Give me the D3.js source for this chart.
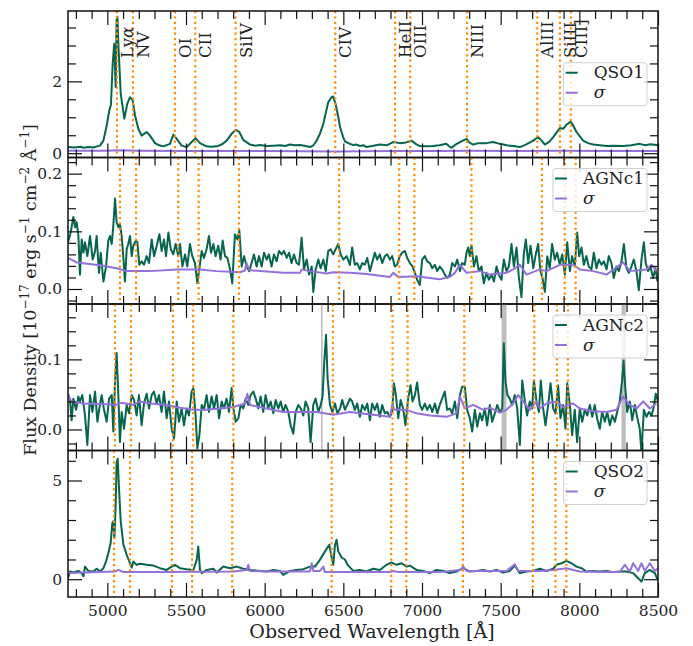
<!DOCTYPE html>
<html>
<head>
    <meta charset="utf-8">
    <title>Spectra</title>
    <script src="https://d3js.org/d3.v7.min.js"></script>
    <style>
        body { margin: 0; background: #fff; }
        svg text { font-family: "DejaVu Serif", serif; fill: #222; }
    </style>
</head>
<body>
<div id="chart"></div>
<script>
// ---- data ----
const qso1Flux = [[4750,0.17],[4790,0.16],[4830,0.18],[4848,0.15],[4880,0.17],[4911,0.16],[4935,0.19],[4953,0.21],[4975,0.35],[4996,0.77],[5013,1.20],[5023,1.35],[5034,2.5],[5044,3.05],[5053,1.84],[5059,3.7],[5064,3.8],[5070,3.05],[5085,1.66],[5108,0.96],[5127,1.38],[5144,1.56],[5161,1.47],[5176,1.05],[5197,0.68],[5218,0.49],[5250,0.59],[5271,0.49],[5303,0.28],[5330,0.22],[5356,0.19],[5398,0.26],[5420,0.52],[5441,0.40],[5472,0.21],[5504,0.17],[5536,0.31],[5561,0.42],[5589,0.28],[5631,0.19],[5660,0.18],[5695,0.19],[5730,0.25],[5758,0.35],[5790,0.54],[5818,0.65],[5839,0.59],[5864,0.37],[5907,0.24],[5940,0.21],[5970,0.23],[6010,0.20],[6055,0.21],[6100,0.22],[6130,0.20],[6161,0.24],[6190,0.22],[6224,0.23],[6260,0.20],[6288,0.17],[6310,0.22],[6330,0.35],[6352,0.55],[6373,0.82],[6390,1.15],[6404,1.42],[6426,1.56],[6436,1.58],[6453,1.33],[6468,1.0],[6479,0.73],[6499,0.45],[6510,0.33],[6542,0.26],[6563,0.23],[6585,0.24],[6605,0.20],[6630,0.22],[6648,0.17],[6690,0.21],[6732,0.24],[6775,0.22],[6817,0.31],[6859,0.28],[6900,0.30],[6933,0.35],[6960,0.26],[6986,0.20],[7030,0.19],[7071,0.20],[7110,0.22],[7156,0.26],[7170,0.20],[7188,0.15],[7210,0.23],[7241,0.31],[7283,0.40],[7300,0.30],[7325,0.24],[7360,0.28],[7410,0.28],[7450,0.31],[7495,0.26],[7540,0.22],[7580,0.20],[7622,0.17],[7660,0.24],[7707,0.35],[7738,0.45],[7760,0.35],[7781,0.24],[7810,0.32],[7834,0.45],[7876,0.70],[7897,0.68],[7920,0.80],[7944,0.88],[7960,0.78],[7982,0.59],[8024,0.35],[8055,0.28],[8088,0.24],[8130,0.22],[8173,0.20],[8220,0.21],[8278,0.20],[8330,0.22],[8384,0.26],[8420,0.22],[8450,0.25],[8490,0.23],[8500,0.22]];
const qso1Sigma = [[4750,0.07],[5000,0.07],[5060,0.08],[5200,0.07],[5500,0.06],[6000,0.06],[6450,0.05],[6800,0.06],[7100,0.06],[7300,0.07],[7600,0.06],[7900,0.07],[8200,0.06],[8500,0.06]];

const agnc1Flux = [[4750,0.081],[4767,0.098],[4784,0.125],[4795,0.107],[4805,0.116],[4816,0.092],[4826,0.025],[4837,0.086],[4848,0.063],[4858,0.081],[4873,0.057],[4890,0.092],[4907,0.051],[4922,0.066],[4932,0.092],[4947,0.028],[4958,0.063],[4975,0.013],[4992,0.039],[5006,0.084],[5017,0.092],[5028,0.078],[5038,0.11],[5049,0.157],[5059,0.116],[5070,0.107],[5080,0.113],[5091,0.092],[5102,0.054],[5112,0.013],[5123,0.069],[5133,0.078],[5144,0.092],[5155,0.057],[5165,0.075],[5182,0.084],[5191,0.081],[5203,0.042],[5218,0.048],[5233,0.042],[5250,0.057],[5265,0.045],[5282,0.086],[5297,0.057],[5314,0.075],[5331,0.095],[5345,0.066],[5360,0.086],[5373,0.057],[5388,0.098],[5403,0.069],[5419,0.060],[5434,0.078],[5451,0.057],[5462,0.078],[5477,0.039],[5494,0.060],[5508,0.039],[5525,0.078],[5540,0.057],[5557,0.045],[5572,0.010],[5585,0.036],[5600,0.066],[5614,0.054],[5631,0.069],[5646,0.092],[5659,0.063],[5674,0.078],[5688,0.057],[5705,0.075],[5720,0.051],[5733,0.084],[5748,0.057],[5763,0.054],[5780,0.034],[5794,0.010],[5811,0.095],[5826,0.086],[5839,0.101],[5854,0.039],[5869,0.057],[5885,0.039],[5902,0.031],[5917,0.045],[5932,0.060],[5949,0.039],[5964,0.057],[5981,0.039],[5996,0.063],[6013,0.051],[6027,0.060],[6044,0.039],[6059,0.060],[6076,0.048],[6091,0.066],[6108,0.060],[6123,0.066],[6140,0.054],[6155,0.063],[6171,0.045],[6186,0.060],[6203,0.045],[6218,0.042],[6235,0.089],[6250,0.034],[6267,0.051],[6282,0.025],[6299,0.039],[6309,-0.005],[6324,0.034],[6341,0.051],[6356,0.036],[6373,0.051],[6388,0.031],[6404,0.066],[6419,0.069],[6436,0.060],[6451,0.069],[6468,0.078],[6483,0.060],[6500,0.051],[6521,0.057],[6542,0.042],[6556,0.072],[6573,0.042],[6588,0.045],[6605,0.034],[6620,0.045],[6637,0.042],[6652,0.054],[6669,0.031],[6683,0.045],[6700,0.063],[6715,0.051],[6732,0.060],[6747,0.045],[6764,0.057],[6779,0.060],[6796,0.051],[6811,0.057],[6827,0.039],[6842,0.042],[6859,0.057],[6874,0.063],[6891,0.066],[6906,0.054],[6923,0.045],[6940,0.039],[6955,0.028],[6969,0.016],[6986,0.007],[7001,0.051],[7018,0.057],[7033,0.048],[7050,0.045],[7065,0.036],[7082,0.042],[7097,0.031],[7113,0.039],[7128,0.034],[7145,0.025],[7160,0.019],[7177,0.025],[7192,0.045],[7209,0.039],[7224,0.051],[7241,0.031],[7255,0.045],[7272,0.042],[7283,0.063],[7294,0.072],[7304,0.057],[7315,0.075],[7330,0.039],[7346,0.057],[7361,0.031],[7378,0.039],[7393,0.010],[7410,0.028],[7425,0.016],[7442,0.025],[7457,0.013],[7474,0.039],[7488,0.025],[7505,0.016],[7520,0.051],[7537,0.031],[7552,0.039],[7569,0.078],[7584,0.039],[7601,0.072],[7615,0.022],[7632,-0.014],[7647,0.060],[7660,0.086],[7675,0.045],[7690,0.075],[7707,0.036],[7721,0.057],[7738,0.078],[7753,0.031],[7766,0.019],[7781,-0.005],[7796,0.057],[7812,0.036],[7827,0.078],[7844,0.051],[7859,0.063],[7876,0.042],[7891,0.060],[7908,0.025],[7923,0.081],[7940,0.031],[7954,0.057],[7971,0.039],[7986,0.098],[7999,0.057],[8014,0.072],[8029,0.042],[8045,0.057],[8060,0.039],[8077,0.034],[8092,0.063],[8109,0.036],[8124,0.051],[8141,0.042],[8156,0.048],[8173,0.034],[8187,0.057],[8204,0.045],[8219,0.019],[8236,0.039],[8251,0.031],[8268,0.048],[8283,0.078],[8300,0.036],[8315,0.028],[8331,0.039],[8346,0.051],[8363,0.031],[8378,-0.002],[8395,0.051],[8410,0.081],[8422,0.045],[8437,0.031],[8452,0.039],[8469,0.019],[8484,0.036],[8497,0.013]];
const agnc1Sigma = [[4750,0.054],[4805,0.046],[4953,0.041],[5059,0.036],[5123,0.031],[5271,0.031],[5441,0.034],[5589,0.034],[5695,0.031],[5843,0.029],[5875,0.032],[5885,0.045],[5902,0.033],[5928,0.032],[6118,0.028],[6224,0.028],[6235,0.034],[6288,0.031],[6394,0.027],[6436,0.029],[6542,0.028],[6648,0.026],[6796,0.021],[6817,0.028],[6849,0.021],[6965,0.022],[7113,0.017],[7177,0.021],[7209,0.028],[7241,0.042],[7283,0.028],[7368,0.031],[7431,0.025],[7537,0.028],[7579,0.034],[7622,0.042],[7664,0.025],[7749,0.034],[7791,0.031],[7876,0.042],[7961,0.042],[8003,0.034],[8088,0.031],[8173,0.025],[8278,0.046],[8321,0.031],[8427,0.034],[8459,0.042],[8490,0.031]];

const agnc2Flux = [[4750,0.051],[4763,0.042],[4773,0.013],[4784,0.044],[4801,0.028],[4816,0.047],[4826,0.040],[4841,0.049],[4858,0.020],[4873,-0.022],[4890,0.049],[4905,0.025],[4922,0.054],[4937,0.011],[4949,0.030],[4964,0.049],[4979,0.028],[4996,0.011],[5011,0.044],[5028,0.049],[5038,-0.003],[5049,0.068],[5059,0.109],[5070,0.049],[5080,-0.018],[5091,0.025],[5106,0.001],[5123,0.035],[5138,0.023],[5155,0.049],[5170,0.042],[5186,0.020],[5201,0.049],[5218,0.006],[5233,0.037],[5250,0.051],[5265,0.030],[5282,0.049],[5297,0.054],[5314,0.037],[5328,0.049],[5345,0.025],[5360,0.054],[5377,0.016],[5392,0.040],[5409,0.001],[5424,-0.013],[5441,0.040],[5455,0.011],[5472,0.030],[5487,0.006],[5504,0.030],[5519,0.020],[5536,0.054],[5547,0.059],[5561,0.020],[5572,-0.027],[5585,-0.008],[5600,0.035],[5614,0.028],[5631,0.049],[5646,0.025],[5663,0.047],[5678,0.030],[5695,0.049],[5710,0.016],[5727,0.040],[5741,0.030],[5758,0.044],[5773,0.025],[5790,0.059],[5801,0.030],[5816,0.011],[5833,0.016],[5847,0.035],[5864,0.030],[5879,0.044],[5896,0.035],[5911,0.049],[5928,0.054],[5943,0.044],[5960,0.030],[5974,0.047],[5991,0.025],[6006,0.049],[6023,0.030],[6038,0.040],[6055,0.023],[6070,0.042],[6087,0.030],[6102,0.040],[6118,0.025],[6133,0.035],[6150,0.025],[6165,0.006],[6182,-0.006],[6197,0.025],[6214,0.035],[6229,0.030],[6246,0.020],[6260,0.040],[6277,0.030],[6292,-0.018],[6309,0.035],[6324,0.044],[6341,0.025],[6356,0.035],[6368,0.047],[6379,0.097],[6390,0.135],[6400,0.073],[6415,0.035],[6430,0.025],[6447,0.037],[6462,0.023],[6479,0.030],[6493,0.042],[6510,0.028],[6525,0.035],[6542,0.044],[6556,0.040],[6573,0.028],[6588,0.037],[6605,0.018],[6620,0.035],[6637,0.028],[6652,0.037],[6669,0.013],[6683,0.037],[6700,0.028],[6715,0.037],[6732,0.018],[6747,0.035],[6764,0.023],[6779,0.025],[6796,0.018],[6811,0.025],[6821,0.066],[6834,0.049],[6849,0.016],[6864,0.042],[6880,0.030],[6895,0.006],[6912,0.044],[6927,0.063],[6940,0.040],[6955,0.049],[6969,0.067],[6986,0.035],[7001,0.028],[7018,0.037],[7033,0.028],[7050,0.035],[7065,0.025],[7082,0.037],[7097,0.023],[7113,0.035],[7128,0.044],[7145,0.054],[7160,0.028],[7177,0.030],[7192,0.023],[7209,0.040],[7224,0.016],[7241,0.049],[7255,0.061],[7272,0.061],[7287,0.028],[7304,0.016],[7319,-0.003],[7336,0.028],[7351,0.004],[7368,0.023],[7382,0.013],[7399,0.030],[7414,0.006],[7431,0.035],[7446,0.011],[7463,0.023],[7478,0.035],[7495,0.025],[7510,0.030],[7520,0.123],[7531,0.068],[7543,0.049],[7558,0.044],[7573,0.035],[7590,0.049],[7605,0.030],[7622,-0.022],[7637,0.070],[7654,0.040],[7668,0.020],[7685,0.040],[7700,0.030],[7711,0.070],[7728,0.040],[7743,0.025],[7755,0.070],[7770,0.030],[7785,0.006],[7802,0.035],[7817,0.066],[7834,0.030],[7849,0.023],[7865,0.063],[7880,0.016],[7897,0.035],[7912,0.001],[7923,0.066],[7940,0.035],[7954,-0.008],[7971,0.028],[7986,-0.018],[8003,0.030],[8018,0.011],[8035,0.028],[8050,0.020],[8067,0.035],[8082,0.018],[8098,0.035],[8113,0.016],[8130,0.001],[8145,0.025],[8162,0.011],[8177,0.025],[8194,0.006],[8209,0.020],[8226,0.011],[8240,0.025],[8257,0.040],[8272,0.070],[8281,0.098],[8291,0.063],[8304,0.025],[8321,0.040],[8336,0.013],[8353,0.035],[8367,0.018],[8384,0.001],[8395,-0.034],[8410,0.028],[8427,0.018],[8442,0.025],[8459,0.020],[8473,0.032],[8486,0.051],[8500,0.040]];
const agnc2Sigma = [[4750,0.049],[4773,0.040],[4848,0.037],[4996,0.036],[5049,0.035],[5091,0.038],[5165,0.035],[5208,0.040],[5271,0.037],[5377,0.035],[5462,0.031],[5547,0.028],[5631,0.028],[5801,0.032],[5875,0.037],[5890,0.051],[5907,0.035],[6013,0.030],[6118,0.025],[6224,0.025],[6330,0.025],[6436,0.021],[6542,0.025],[6605,0.023],[6690,0.021],[6796,0.018],[6811,0.035],[6827,0.028],[6902,0.028],[6965,0.023],[7050,0.020],[7156,0.018],[7219,0.023],[7241,0.047],[7272,0.030],[7325,0.035],[7389,0.028],[7431,0.031],[7495,0.024],[7537,0.028],[7579,0.037],[7611,0.049],[7643,0.040],[7685,0.028],[7728,0.040],[7749,0.030],[7791,0.037],[7855,0.040],[7897,0.032],[7961,0.037],[8003,0.030],[8088,0.026],[8173,0.025],[8236,0.028],[8278,0.047],[8321,0.035],[8363,0.030],[8406,0.040],[8448,0.030],[8490,0.037]];

const qso2Flux = [[4750,0.05],[4763,0.39],[4784,0.34],[4816,0.42],[4837,0.31],[4848,0.15],[4858,0.64],[4879,0.42],[4911,0.39],[4932,0.53],[4953,0.39],[4975,0.56],[4992,0.90],[5006,1.32],[5021,1.83],[5032,2.85],[5038,2.93],[5045,2.08],[5053,3.78],[5059,5.90],[5066,6.10],[5074,4.63],[5085,2.93],[5102,1.75],[5123,1.24],[5144,0.81],[5155,0.59],[5165,0.90],[5186,0.73],[5208,0.78],[5250,0.73],[5292,0.69],[5335,0.56],[5377,0.47],[5409,0.64],[5430,0.73],[5462,0.56],[5504,0.51],[5547,0.47],[5568,0.98],[5578,1.66],[5589,0.47],[5600,0.31],[5631,0.47],[5674,0.53],[5695,0.34],[5737,0.64],[5780,0.56],[5822,0.64],[5864,0.53],[5907,0.47],[5970,0.42],[6013,0.39],[6055,0.47],[6097,0.42],[6118,0.22],[6161,0.42],[6203,0.47],[6246,0.51],[6288,0.64],[6320,0.64],[6351,0.98],[6383,1.41],[6411,1.75],[6426,1.07],[6436,0.73],[6447,1.75],[6457,2.0],[6468,1.41],[6489,1.1],[6510,1.0],[6530,0.7],[6563,0.42],[6605,0.47],[6647,0.39],[6690,0.53],[6732,0.47],[6775,0.73],[6806,0.85],[6838,0.73],[6870,0.81],[6902,0.64],[6923,0.69],[6965,0.47],[7008,0.42],[7050,0.31],[7092,0.47],[7135,0.42],[7177,0.31],[7219,0.39],[7262,0.56],[7304,0.39],[7346,0.42],[7389,0.47],[7431,0.39],[7474,0.47],[7516,0.34],[7558,0.42],[7590,0.69],[7622,0.31],[7664,0.39],[7707,0.42],[7749,0.53],[7791,0.42],[7834,0.53],[7855,0.73],[7887,0.81],[7918,0.93],[7950,0.81],[7982,0.64],[8014,0.56],[8045,0.39],[8088,0.42],[8130,0.39],[8173,0.42],[8215,0.36],[8257,0.39],[8300,0.39],[8342,0.31],[8363,0.14],[8395,-0.12],[8416,0.31],[8448,0.47],[8480,0.31],[8494,0.05],[8500,0.05]];
const qso2Sigma = [[4750,0.31],[4953,0.36],[5049,0.39],[5070,0.47],[5102,0.36],[5377,0.36],[5801,0.39],[5885,0.47],[5896,0.73],[5907,0.42],[6013,0.39],[6224,0.39],[6288,0.39],[6299,0.81],[6309,0.42],[6351,0.42],[6373,0.64],[6383,0.36],[6542,0.36],[6796,0.36],[6817,0.42],[6849,0.36],[7113,0.36],[7241,0.47],[7262,0.64],[7283,0.42],[7537,0.42],[7590,0.76],[7611,0.42],[7749,0.42],[7834,0.47],[7918,0.56],[7961,0.47],[8003,0.39],[8173,0.36],[8257,0.36],[8289,0.73],[8321,0.39],[8342,0.81],[8374,0.42],[8395,0.81],[8416,0.42],[8448,0.81],[8480,0.42],[8500,0.56]];

// emission lines: rest wavelengths and the redshift of each object
const lineNames = ["Ly\u03b1", "NV", "OI", "CII", "SiIV", "CIV", "HeII", "OIII", "NIII", "AlIII", "SiIII", "CIII]"];
const lineRest = [1215.67, 1240.14, 1304.35, 1335.3, 1396.76, 1549.06, 1640.42, 1663.48, 1750.26, 1857.4, 1892.03, 1908.73];
const redshifts = [3.163, 3.179, 3.153, 3.148];

// masked sky regions in AGNc2
const skyBands = [[6358, 6368], [7506, 7537], [8268, 8295]];

const objectNames = ["QSO1", "AGNc1", "AGNc2", "QSO2"];
const yDomains = [[-0.12, 3.96], [-0.026, 0.228], [-0.03, 0.179], [-0.9, 6.52]];
const yMajorTicks = [[0, 2], [0, 0.1, 0.2], [0, 0.1], [0, 5]];
const yMinorSteps = [0.5, 0.02, 0.02, 1];
const yTickFormats = ["d", ".1f", ".1f", "d"];
const xMajorTicks = [5000, 5500, 6000, 6500, 7000, 7500, 8000, 8500];

// ---- layout ----
const width = 693, height = 646;
const plotLeft = 68, plotRight = 658, plotTop = 11, panelH = 146.5;
const green = "#05654f", purple = "#9370db", orange = "#ff8c00";

const svg = d3.select("#chart").append("svg")
    .attr("width", width)
    .attr("height", height);

const x = d3.scaleLinear().domain([4750, 8500]).range([plotLeft, plotRight]);
const xMinor = d3.range(4800, 8500, 100).filter(v => v % 500 !== 0);

const fluxes = [qso1Flux, agnc1Flux, agnc2Flux, qso2Flux];
const sigmas = [qso1Sigma, agnc1Sigma, agnc2Sigma, qso2Sigma];

function styleAxis(g, size) {
    g.attr("font-family", null).attr("font-size", null);
    g.select(".domain").remove();
    g.selectAll(".tick line").attr("stroke", "#111").attr("stroke-width", 1.2);
    g.selectAll(".tick text").attr("fill", "#222").style("font-size", size + "px");
}

fluxes.forEach((flux, i) => {
    const y0 = plotTop + i * panelH, y1 = y0 + panelH;
    const y = d3.scaleLinear().domain(yDomains[i]).range([y1, y0]);
    const g = svg.append("g");

    const clipId = "clip" + i;
    svg.append("clipPath").attr("id", clipId)
        .append("rect").attr("x", plotLeft).attr("y", y0).attr("width", plotRight - plotLeft).attr("height", panelH);
    const plot = g.append("g").attr("clip-path", `url(#${clipId})`);

    // grey masked regions (only the AGNc2 panel)
    if (i === 2) {
        plot.selectAll("rect.sky").data(skyBands).join("rect")
            .attr("class", "sky")
            .attr("x", d => x(d[0]))
            .attr("width", d => x(d[1]) - x(d[0]))
            .attr("y", y0).attr("height", panelH)
            .attr("fill", "#bdbdbd");
    }

    const line = d3.line().x(d => x(d[0])).y(d => y(d[1]));
    plot.append("path").datum(flux)
        .attr("d", line).attr("fill", "none")
        .attr("stroke", green).attr("stroke-width", 2).attr("stroke-linejoin", "round");
    plot.append("path").datum(sigmas[i])
        .attr("d", line).attr("fill", "none")
        .attr("stroke", purple).attr("stroke-width", 2).attr("stroke-linejoin", "round");

    // emission line markers
    const obs = lineRest.map(r => r * (1 + redshifts[i]));
    plot.selectAll("line.em").data(obs).join("line")
        .attr("class", "em")
        .attr("x1", d => x(d)).attr("x2", d => x(d))
        .attr("y1", y0).attr("y2", y1)
        .attr("stroke", orange).attr("stroke-width", 2.2)
        .attr("stroke-dasharray", "2.2 3.2");

    if (i === 0) {
        g.selectAll("text.em").data(obs).join("text")
            .attr("class", "em")
            .attr("transform", d => `translate(${x(d) + 16},${y0 + 47}) rotate(-90)`)
            .style("font-size", "16.5px")
            .each(function (d, k) {
                const t = d3.select(this);
                if (k === 0) {
                    t.append("tspan").text("Ly");
                    t.append("tspan").style("font-style", "italic").text("\u03b1");
                } else {
                    t.text(lineNames[k]);
                }
            });
    }

    // axes, ticks inward on all four sides
    const showX = i === 3;
    styleAxis(g.append("g").attr("transform", `translate(0,${y1})`)
        .call(d3.axisBottom(x).tickValues(xMajorTicks).tickSizeInner(-14).tickSizeOuter(0)
            .tickPadding(8).tickFormat(showX ? d3.format("d") : "")), 15.5);
    styleAxis(g.append("g").attr("transform", `translate(0,${y1})`)
        .call(d3.axisBottom(x).tickValues(xMinor).tickSizeInner(-8).tickSizeOuter(0).tickFormat("")), 15);
    styleAxis(g.append("g").attr("transform", `translate(0,${y0})`)
        .call(d3.axisTop(x).tickValues(xMajorTicks).tickSizeInner(-14).tickSizeOuter(0).tickFormat("")), 15);
    styleAxis(g.append("g").attr("transform", `translate(0,${y0})`)
        .call(d3.axisTop(x).tickValues(xMinor).tickSizeInner(-8).tickSizeOuter(0).tickFormat("")), 15);

    const [lo, hi] = yDomains[i];
    const step = yMinorSteps[i];
    const yMinor = d3.range(Math.ceil(lo / step), Math.floor(hi / step) + 1)
        .map(k => +(k * step).toFixed(4))
        .filter(v => !yMajorTicks[i].some(m => Math.abs(m - v) < 1e-6));

    styleAxis(g.append("g").attr("transform", `translate(${plotLeft},0)`)
        .call(d3.axisLeft(y).tickValues(yMajorTicks[i]).tickSizeInner(-14).tickSizeOuter(0)
            .tickPadding(6).tickFormat(d3.format(yTickFormats[i]))), 15.5);
    styleAxis(g.append("g").attr("transform", `translate(${plotLeft},0)`)
        .call(d3.axisLeft(y).tickValues(yMinor).tickSizeInner(-8).tickSizeOuter(0).tickFormat("")), 15);
    styleAxis(g.append("g").attr("transform", `translate(${plotRight},0)`)
        .call(d3.axisRight(y).tickValues(yMajorTicks[i]).tickSizeInner(-14).tickSizeOuter(0).tickFormat("")), 15);
    styleAxis(g.append("g").attr("transform", `translate(${plotRight},0)`)
        .call(d3.axisRight(y).tickValues(yMinor).tickSizeInner(-8).tickSizeOuter(0).tickFormat("")), 15);

    g.append("rect")
        .attr("x", plotLeft).attr("y", y0).attr("width", plotRight - plotLeft).attr("height", panelH)
        .attr("fill", "none").attr("stroke", "#111").attr("stroke-width", 1.5);

    // legend
    const leg = g.append("g");
    const box = leg.append("rect").attr("rx", 3)
        .attr("fill", "white").attr("fill-opacity", 0.8)
        .attr("stroke", "#d0d0d0").attr("stroke-width", 1);
    const label = leg.append("text").style("font-size", "17px").text(objectNames[i]);
    const textW = label.node().getComputedTextLength();
    const boxW = 30 + textW + 3, boxH = 43;
    const bx = plotRight - 11 - boxW;
    const by = i === 0 ? (y0 + y1) / 2 - boxH / 2 : y0 + 11;
    box.attr("x", bx).attr("y", by).attr("width", boxW).attr("height", boxH);
    label.attr("x", bx + 30).attr("y", by + 15.5);
    leg.append("line").attr("x1", bx + 2).attr("x2", bx + 14)
        .attr("y1", by + 10).attr("y2", by + 10)
        .attr("stroke", green).attr("stroke-width", 2);
    leg.append("line").attr("x1", bx + 2).attr("x2", bx + 14)
        .attr("y1", by + 30).attr("y2", by + 30)
        .attr("stroke", purple).attr("stroke-width", 2);
    leg.append("text").attr("x", bx + 30).attr("y", by + 35.5)
        .style("font-size", "17px").style("font-style", "italic").text("\u03c3");
});

// axis titles
svg.append("text")
    .attr("x", 372).attr("y", 638)
    .attr("text-anchor", "middle")
    .style("font-size", "19px")
    .text("Observed Wavelength [\u00c5]");

const ylab = svg.append("text")
    .attr("transform", "translate(36,290) rotate(-90)")
    .attr("text-anchor", "middle")
    .style("font-size", "17.5px");
const parts = [["Flux Density [10", 0], ["\u221217", 1], [" erg s", 0], ["\u22121", 1],
    [" cm", 0], ["\u22122", 1], [" \u00c5", 0], ["\u22121", 1], ["]", 0]];
let raised = false;
parts.forEach(([t, sup]) => {
    const ts = ylab.append("tspan").text(t);
    if (sup && !raised) { ts.attr("dy", -7).style("font-size", "12px"); raised = true; }
    else if (!sup && raised) { ts.attr("dy", 7); raised = false; }
    else if (sup) ts.style("font-size", "12px");
});
</script>
</body>
</html>
